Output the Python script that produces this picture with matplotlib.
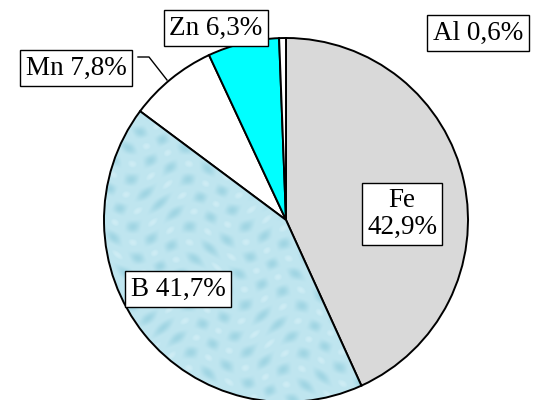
import numpy as np
import matplotlib.pyplot as plt

# element shares, clockwise from 12 o'clock
elements = ["Fe", "B", "Mn", "Zn", "Al"]
shares = [42.9, 41.7, 7.8, 6.3, 0.6]
colors = ["#d9d9d9", "#bfe6ef", "#ffffff", "#00ffff", "#ffffff"]

# label box centres in pixels (x from left, y from top)
label_pos = {"Fe": (402, 214), "B": (178, 289), "Mn": (76, 68),
             "Zn": (216, 28), "Al": (478, 33)}

W, H = 536, 400
fig = plt.figure(figsize=(W / 100, H / 100), dpi=100)
ax = fig.add_axes([0, 0, 1, 1])

cx, cy, r = 286, H - 220, 182
wedges, _ = ax.pie(shares, colors=colors, startangle=90, counterclock=False,
                   center=(cx, cy), radius=r, frame=True,
                   wedgeprops=dict(edgecolor="black", linewidth=1.4))

# water-drop like texture on the B wedge
yy, xx = np.mgrid[0:H, 0:W].astype(float)
u = np.sin(xx / 6.0 + 1.6 * np.sin(yy / 21.0)) * np.sin(yy / 5.0 + 1.6 * np.sin(xx / 17.0))
drops = np.clip(u, 0, 1) ** 1.5
shine = np.clip(-u - 0.7, 0, 1) * 3
base = np.array([0.75, 0.90, 0.94])
dark = np.array([0.58, 0.81, 0.87])
light = np.array([0.88, 0.96, 0.98])
img = (base[None, None, :] * (1 - 0.7 * drops[..., None] - 0.5 * shine[..., None])
       + dark[None, None, :] * 0.7 * drops[..., None]
       + light[None, None, :] * 0.5 * shine[..., None])
im = ax.imshow(img, extent=(0, W, 0, H), origin="lower", zorder=1.5, aspect="auto")
im.set_clip_path(wedges[1])
wedges[1].set_zorder(2)
wedges[1].set_facecolor("none")
ax.set_xlim(0, W)
ax.set_ylim(0, H)
ax.axis("off")

box = dict(boxstyle="square,pad=0.2", facecolor="white", edgecolor="black", linewidth=1.0)
for name, val in zip(elements, shares):
    txt = f"{val:.1f}%".replace(".", ",")
    label = f"{name}\n{txt}" if name == "Fe" else f"{name} {txt}"
    x, y = label_pos[name]
    ax.text(x, H - y, label, ha="center", va="center", fontsize=19.5,
            family="Liberation Serif", bbox=box, zorder=5, linespacing=1.1)

# leader for the Mn label
ax.plot([138, 149, 167], [H - 57, H - 57, H - 80], color="black", lw=1.0, zorder=4)

fig.savefig("out.png", dpi=100)
